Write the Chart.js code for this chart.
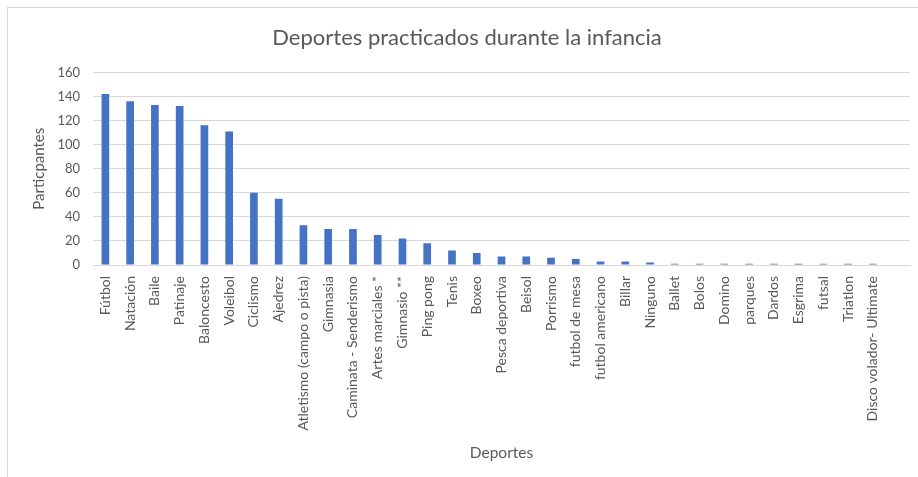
<!DOCTYPE html>
<html>
<head>
<meta charset="utf-8">
<script src="https://cdn.jsdelivr.net/npm/chart.js@4"></script>
<style>
  html, body { margin: 0; padding: 0; background: #ffffff; }
  #wrap { width: 918px; height: 477px; position: relative; }
</style>
</head>
<body>
<div id="wrap"><canvas id="mychart" width="918" height="477"></canvas></div>
<script>
Chart.defaults.font.family = "Lato, 'Open Sans', sans-serif";
Chart.defaults.color = "#595959";

// categories as they appear in the sheet (last row is blank in the source)
var deportes = ["Fútbol", "Natación", "Baile", "Patinaje", "Baloncesto", "Voleibol",
  "Ciclismo", "Ajedrez", "Atletismo (campo o pista)", "Gimnasia", "Caminata - Senderismo",
  "Artes marciales *", "Gimnasio **", "Ping pong", "Tenis", "Boxeo", "Pesca deportiva",
  "Beisol", "Porrismo", "futbol de mesa", "futbol americano", "Billar", "Ninguno",
  "Ballet", "Bolos", "Domino", "parques", "Dardos", "Esgrima", "futsal", "Triatlon",
  "Disco volador- Ultimate", ""];
var participantes = [142, 136, 133, 132, 116, 111, 60, 55, 33, 30, 30, 25, 22, 18, 12,
  10, 7, 7, 6, 5, 3, 3, 2, 1, 1, 1, 1, 1, 1, 1, 1, 1, null];
var yTicks = [0, 20, 40, 60, 80, 100, 120, 140, 160];

var frame = {
  id: "frame",
  beforeDraw: function (chart) {
    var ctx = chart.ctx;
    ctx.save();
    ctx.fillStyle = "#ffffff";
    ctx.fillRect(0, 0, chart.width, chart.height);
    ctx.strokeStyle = "#d9d9d9";
    ctx.lineWidth = 1;
    ctx.strokeRect(7.5, 7.5, 1000, 1000);
    ctx.restore();
  }
};

var barChart = new Chart(document.getElementById("mychart"), {
  type: "bar",
  data: {
    labels: deportes,
    datasets: [{
      label: "Participantes",
      data: participantes,
      backgroundColor: "#4472C4",
      barPercentage: 0.31,
      categoryPercentage: 1
    }]
  },
  options: {
    responsive: false,
    animation: false,
    layout: { padding: { left: 16, right: 0, top: 0, bottom: 10 } },
    plugins: {
      legend: { display: false },
      tooltip: { enabled: false },
      title: {
        display: true,
        text: "Deportes practicados durante la infancia",
        color: "#595959",
        font: { size: 22, weight: "normal" },
        padding: { top: 25, bottom: 21 }
      }
    },
    scales: {
      x: {
        grid: { display: false },
        border: { color: "#d9d9d9" },
        ticks: {
          autoSkip: false,
          maxRotation: 90,
          minRotation: 90,
          padding: 3,
          color: "#595959",
          font: { size: 14 }
        },
        title: {
          display: true,
          text: "Deportes",
          color: "#595959",
          font: { size: 15.5 },
          padding: { top: 4, bottom: 5 }
        },
        afterFit: function (scale) { scale.height = 202; }
      },
      y: {
        min: 0,
        max: 160,
        afterBuildTicks: function (scale) {
          scale.ticks = yTicks.map(function (v) { return { value: v }; });
        },
        grid: { color: "#d9d9d9", drawTicks: false },
        border: { display: false },
        ticks: { padding: 13, color: "#595959", font: { size: 13 } },
        title: {
          display: true,
          text: "Particpantes",
          color: "#595959",
          font: { size: 15 },
          padding: { top: 14, bottom: 0 }
        },
        afterFit: function (scale) { scale.width = 77; }
      },
      // empty right margin inside the frame
      yRight: {
        position: "right",
        min: 0,
        max: 160,
        grid: { display: false },
        border: { display: false },
        ticks: { display: false },
        afterFit: function (scale) { scale.width = 8; }
      }
    }
  },
  plugins: [frame]
});
</script>
</body>
</html>
